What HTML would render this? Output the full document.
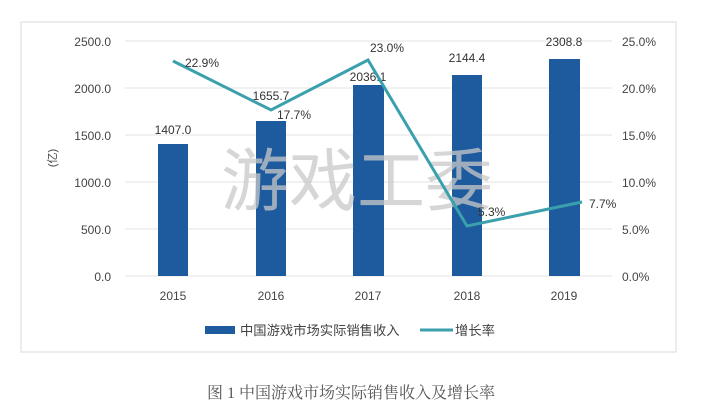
<!DOCTYPE html>
<html><head><meta charset="utf-8"><style>
html,body{margin:0;padding:0;background:#fff;width:706px;height:414px;overflow:hidden}
</style></head><body>
<svg width="706" height="414" xmlns="http://www.w3.org/2000/svg" font-family="'Liberation Sans','Noto Sans CJK SC',sans-serif">
<rect x="21" y="22" width="655" height="330" fill="#fff" stroke="#e6e6e6" stroke-width="1.5"/>
<g stroke="#e3e3e3" stroke-width="1">
<line x1="125" x2="612" y1="41" y2="41"/><line x1="125" x2="612" y1="88" y2="88"/>
<line x1="125" x2="612" y1="135" y2="135"/><line x1="125" x2="612" y1="182" y2="182"/>
<line x1="125" x2="612" y1="229" y2="229"/><line x1="125" x2="612" y1="276" y2="276"/>
</g>
<g font-size="12" fill="#444" text-anchor="end">
<text x="111" y="46">2500.0</text><text x="111" y="93">2000.0</text><text x="111" y="140">1500.0</text>
<text x="111" y="187">1000.0</text><text x="111" y="234">500.0</text><text x="111" y="281">0.0</text>
</g>
<g font-size="12" fill="#444" text-anchor="start">
<text x="622" y="46">25.0%</text><text x="622" y="93">20.0%</text><text x="622" y="140">15.0%</text>
<text x="622" y="187">10.0%</text><text x="622" y="234">5.0%</text><text x="622" y="281">0.0%</text>
</g>
<text x="56" y="158" font-size="11" fill="#444" transform="rotate(-90 56 158)" text-anchor="middle">(亿)</text>
<g fill="#1d5b9e">
<rect x="158" y="144" width="30" height="132"/>
<rect x="256" y="121" width="30" height="155"/>
<rect x="353" y="85" width="31" height="191"/>
<rect x="452" y="75" width="30" height="201"/>
<rect x="549" y="59" width="31" height="217"/>
</g>
<g font-size="12" fill="#333" text-anchor="middle">
<text x="173" y="134">1407.0</text><text x="271" y="100">1655.7</text><text x="368" y="81">2036.1</text>
<text x="467" y="62">2144.4</text><text x="564" y="46">2308.8</text>
</g>
<text x="357" y="205" font-size="68" fill="#c8c8c8" fill-opacity="0.75" text-anchor="middle" font-family="'Noto Sans CJK SC',sans-serif">游戏工委</text>
<polyline points="173,61 271,110 368,60 467,226 582,202" fill="none" stroke="#3aa0ad" stroke-width="3" stroke-linejoin="miter"/>
<g font-size="12" fill="#333">
<text x="185" y="67">22.9%</text><text x="277" y="119">17.7%</text><text x="370" y="52">23.0%</text>
<text x="478" y="216">5.3%</text><text x="589" y="208">7.7%</text>
</g>
<g font-size="12" fill="#444" text-anchor="middle">
<text x="173" y="300">2015</text><text x="271" y="300">2016</text><text x="368" y="300">2017</text>
<text x="467" y="300">2018</text><text x="564" y="300">2019</text>
</g>
<rect x="205" y="326" width="30" height="8" fill="#1d5b9e"/>
<text x="240" y="335" font-size="13.3" fill="#444">中国游戏市场实际销售收入</text>
<line x1="420" x2="453" y1="330" y2="330" stroke="#3aa0ad" stroke-width="3"/>
<text x="455" y="335" font-size="13.3" fill="#444">增长率</text>
<text x="351" y="398" font-size="16" fill="#555" text-anchor="middle" font-family="'Liberation Serif','Noto Serif CJK SC',serif">图 1  中国游戏市场实际销售收入及增长率</text>
</svg>
</body></html>
